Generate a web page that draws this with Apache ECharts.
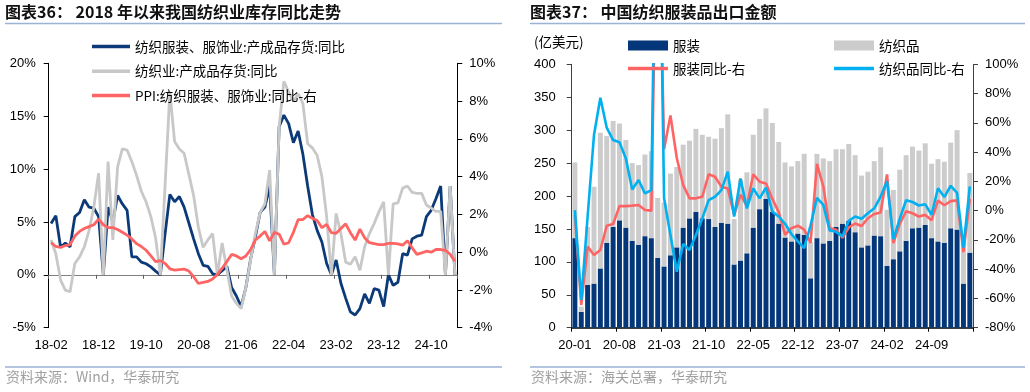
<!DOCTYPE html>
<html>
<head>
<meta charset="utf-8">
<script src="https://cdn.jsdelivr.net/npm/echarts@6/dist/echarts.min.js"></script>
<style>
html,body{margin:0;padding:0;background:#fff;}
#c{width:1030px;height:392px;}
</style>
</head>
<body>
<div id="c"></div>
<script>
// ---------- Left chart: 2018 年以来我国纺织业库存同比走势 ----------
const leftCategories = [
 '18-02','18-03','18-04','18-05','18-06','18-07','18-08','18-09','18-10','18-11','18-12',
 '19-01','19-02','19-03','19-04','19-05','19-06','19-07','19-08','19-09','19-10','19-11','19-12',
 '20-01','20-02','20-03','20-04','20-05','20-06','20-07','20-08','20-09','20-10','20-11','20-12',
 '21-01','21-02','21-03','21-04','21-05','21-06','21-07','21-08','21-09','21-10','21-11','21-12',
 '22-01','22-02','22-03','22-04','22-05','22-06','22-07','22-08','22-09','22-10','22-11','22-12',
 '23-01','23-02','23-03','23-04','23-05','23-06','23-07','23-08','23-09','23-10','23-11','23-12',
 '24-01','24-02','24-03','24-04','24-05','24-06','24-07','24-08','24-09','24-10','24-11','24-12',
 '25-01','25-02','25-03'
];
// 纺织服装、服饰业:产成品存货:同比 (%)
const apparelInventoryYoY = [
 4.85,5.6,2.6,3.0,2.65,5.5,5.9,7.1,6.4,6.3,5.5,
 0,6.4,5.0,7.5,6.7,6.1,1.7,1.7,1.2,1.05,0.75,0.35,
 0,3.9,7.6,6.9,7.4,6.4,4.9,3.4,2.0,0.9,0.8,0.1,
 0,0.4,0.8,-1.2,-2.0,-3.0,-1.2,1.5,3.6,5.9,6.4,8.4,
 0,14.0,15.1,14.3,12.5,13.6,11.4,8.4,5.7,4.2,3.1,1.07,
 0,1.4,-0.8,-2.2,-3.5,-3.8,-3.2,-1.8,-2.7,-1.3,-1.45,-3.0,
 0,-1.0,-0.7,2.0,1.86,3.4,3.65,3.75,5.5,6.1,7.2,8.4,
 0,8.4,0
];
// 纺织业:产成品存货:同比 (%)
const textileInventoryYoY = [
 3.3,2.0,-0.5,-1.45,-1.6,1.07,1.7,2.65,4.2,6.4,9.6,
 0,10.7,3.3,10.2,11.9,11.8,10.7,9.4,7.9,6.9,5.5,3.5,
 0,8.5,17.3,12.6,11.9,11.5,9.5,7.5,4.5,2.6,3.3,3.9,
 0,3.0,0.5,-2.0,-2.7,-3.2,-1.2,1.4,3.9,5.9,6.7,9.9,
 0,14.0,18.3,17.3,16.4,17.1,16.2,12.4,12.0,11.3,9.3,5.5,
 0,5.8,3.9,1.2,1.0,1.7,0.44,2.65,3.9,4.85,5.95,6.9,
 0,6.7,6.8,8.2,8.4,7.8,7.7,7.7,6.6,6.3,6.0,6.0,
 0,8.4,0
];
// PPI:纺织服装、服饰业:同比 (%, right axis)
const apparelPPIYoY = [
 0.5,0.3,0.25,0.35,0.4,0.85,1.1,1.25,1.35,1.45,1.75,
 1.45,1.3,1.3,1.2,1.05,0.9,0.7,0.45,0.3,0.1,-0.2,-0.5,
 -0.45,-0.6,-0.88,-0.95,-0.92,-0.9,-1.0,-1.3,-1.66,-1.6,-1.55,-1.42,
 -1.18,-0.85,-0.5,-0.12,-0.2,-0.35,-0.2,0.14,0.65,0.85,1.1,0.6,
 1.05,0.95,0.42,0.5,1.05,1.72,1.73,1.93,1.8,1.68,1.3,1.47,
 1.03,1.0,1.25,1.5,1.03,0.64,1.22,0.76,0.5,0.45,0.4,0.4,
 0.46,0.46,0.44,0.37,0.6,0.23,-0.12,-0.04,0.05,0,0.14,0.14,
 0.1,-0.12,-0.48
];
const leftLeftTicks = {min:-5, max:20, interval:5};
const leftRightTicks = {min:-4, max:10, interval:2};

// ---------- Right chart: 中国纺织服装品出口金额 ----------
const rightCategories = [
 '20-01','20-02','20-03','20-04','20-05','20-06','20-07','20-08','20-09','20-10','20-11','20-12',
 '21-01','21-02','21-03','21-04','21-05','21-06','21-07','21-08','21-09','21-10','21-11','21-12',
 '22-01','22-02','22-03','22-04','22-05','22-06','22-07','22-08','22-09','22-10','22-11','22-12',
 '23-01','23-02','23-03','23-04','23-05','23-06','23-07','23-08','23-09','23-10','23-11','23-12',
 '24-01','24-02','24-03','24-04','24-05','24-06','24-07','24-08','24-09','24-10','24-11','24-12',
 '25-01','25-02','25-03'
];
// 服装 (亿美元)
const apparelExports = [
 136,24,65,67,90,129,153,163,152,132,126,139,
 136,106,93,110,122,152,166,176,166,165,153,159,
 158,96,102,113,152,180,196,176,158,137,131,143,
 141,75,136,128,132,153,158,162,145,122,125,140,
 139,94,104,116,132,151,152,156,136,131,129,151,
 149,67,114
];
// 纺织品 (亿美元)
const textileExports = [
 115,8,88,147,206,162,161,147,133,118,121,124,
 132,91,97,124,122,126,118,126,127,125,134,144,
 166,69,123,123,141,137,137,135,124,114,114,110,
 123,55,128,129,121,118,113,117,117,109,112,113,
 135,85,105,124,130,124,117,124,113,125,123,130,
 151,63,121
];
// 服装同比 (%, right axis)
const apparelExportsYoY = [
 -3,-64.5,-24.6,-30.3,-26.9,-10.3,-9.2,3.1,3.1,3.4,3.8,0.4,
 0,250,42,65,36,17.5,8.4,8.4,9.5,24.8,23.2,16.4,
 15.2,-3,11,3,24.8,19.8,18.6,8,-1,-16.5,-12,-10.3,
 -13,-22,32,16.6,-12,-13,-18.5,-11.5,-8.8,-10.5,-5.2,-2.3,
 -1.2,24.7,-22.2,-9.1,-0.4,-1.8,-4,-2.9,-6.5,6.8,3.7,6.5,
 7,-28.3,8
];
// 纺织品同比 (%, right axis)
const textileExportsYoY = [
 0.4,-61,-4,51.7,77.2,56.7,48.2,46.7,35.7,14.5,20.9,11.8,
 14,300,8.4,-16.7,-41.7,-22.8,-26.9,-16.7,-5.3,7.2,9.5,14,
 26.6,-4.1,22,1.5,15.2,8.4,15.7,-0.7,-4,-9,-16,-21,
 -25.6,-10,8.7,3.9,-13.5,-14.5,-17.6,-7,-4,-5.6,-1.8,1.6,
 9.6,20.1,-19.4,-5.6,7.1,5.9,3.5,4.3,-2.8,15.3,9.3,17,
 12.2,-25.2,16.5
];
const rightLeftTicks = {min:0, max:400, interval:50};
const rightRightTicks = {min:-80, max:100, interval:20};

// ---------- styling ----------
const CJK = '"Noto Sans CJK SC", "Noto Sans", sans-serif';
const LAT = '"Liberation Sans", Arial, sans-serif';
const C = {
  navyL:'#0c3a78', grayL:'#c8c8c8', redL:'#ff6464',
  navyR:'#043779', grayR:'#cccccc', redR:'#ff6464', blueR:'#00b0f0',
  rule:'#9bb3d4', src:'#a0a0a0'
};
const axisLabelBase = {color:'#000', fontFamily: LAT, fontSize:13};

function yAx(grid, pos, t, margin, lineColor){
  return {
    type:'value', gridIndex:grid, position:pos, min:t.min, max:t.max, interval:t.interval,
    axisLine:{show:true, onZero:false, lineStyle:{color:lineColor, width:1}},
    axisTick:{show:true, length:5, lineStyle:{color:lineColor}},
    splitLine:{show:false},
    axisLabel:Object.assign({}, axisLabelBase, {margin:margin, formatter:(v)=> pos==='left' && grid===1 ? String(v) : v+'%'})
  };
}

const names = {
  a:'纺织服装、服饰业:产成品存货:同比',
  b:'纺织业:产成品存货:同比',
  c:'PPI:纺织服装、服饰业:同比-右',
  d:'服装', e:'纺织品', f:'服装同比-右', g:'纺织品同比-右'
};
function lg(name, left, top, w, h){
  return {
    data:[name], left:left, top:top, itemWidth:w, itemHeight:h, icon:'rect',
    itemGap:0, padding:0, selectedMode:false,
    textStyle:{fontFamily:CJK, fontSize:13.5, color:'#000', lineHeight:16, padding:[1,0,0,0]}
  };
}

const option = {
  animation:false,
  backgroundColor:'#fff',
  grid:[
    {left:48.7, top:63.3, width:408.6, height:264.4},
    {left:571.7, top:64.3, width:401.3, height:263.4}
  ],
  legend:[
    lg(names.a, 92, 38, 38, 3.5),
    lg(names.b, 92, 62.7, 38, 3.5),
    lg(names.c, 92, 87, 38, 3.5),
    lg(names.d, 628, 37, 40, 10),
    lg(names.e, 834, 37, 40, 10),
    lg(names.f, 628, 60, 40, 3.5),
    lg(names.g, 834, 60, 40, 3.5)
  ],
  xAxis:[
    {type:'category', gridIndex:0, data:leftCategories, boundaryGap:true, position:'bottom',
     axisLine:{show:true, onZero:true, onZeroAxisIndex:0, lineStyle:{color:'#808080', width:1}},
     axisTick:{show:true, interval:9, alignWithLabel:false, length:4, lineStyle:{color:'#606060'}},
     axisLabel:{show:false}, splitLine:{show:false}},
    {type:'category', gridIndex:0, data:leftCategories, boundaryGap:true, position:'bottom',
     axisLine:{show:false, onZero:false}, axisTick:{show:false},
     axisLabel:Object.assign({}, axisLabelBase, {interval:9, margin:11}), splitLine:{show:false}},
    {type:'category', gridIndex:1, data:rightCategories, boundaryGap:true, position:'bottom',
     axisLine:{show:true, onZero:false, lineStyle:{color:'#000', width:1.5}},
     axisTick:{show:true, interval:6, alignWithLabel:false, length:4, lineStyle:{color:'#000'}},
     axisLabel:Object.assign({}, axisLabelBase, {interval:6, margin:11}), splitLine:{show:false}}
  ],
  yAxis:[
    yAx(0,'left',leftLeftTicks,13,'#000'),
    yAx(0,'right',leftRightTicks,12,'#000'),
    yAx(1,'left',rightLeftTicks,16,'#404040'),
    yAx(1,'right',rightRightTicks,12,'#404040')
  ],
  series:[
    {name:names.a, type:'line', xAxisIndex:0, yAxisIndex:0, data:apparelInventoryYoY,
     symbol:'none', lineStyle:{color:C.navyL, width:2.8}, itemStyle:{color:C.navyL}},
    {name:names.b, type:'line', xAxisIndex:0, yAxisIndex:0, data:textileInventoryYoY,
     symbol:'none', lineStyle:{color:C.grayL, width:2.8}, itemStyle:{color:C.grayL}},
    {name:names.c, type:'line', xAxisIndex:0, yAxisIndex:1, data:apparelPPIYoY,
     symbol:'none', lineStyle:{color:C.redL, width:2.8}, itemStyle:{color:C.redL}},
    {name:names.d, type:'bar', xAxisIndex:2, yAxisIndex:2, stack:'exp', data:apparelExports,
     barCategoryGap:'22%', itemStyle:{color:C.navyR}},
    {name:names.e, type:'bar', xAxisIndex:2, yAxisIndex:2, stack:'exp', data:textileExports,
     barCategoryGap:'22%', itemStyle:{color:C.grayR}},
    {name:names.f, type:'line', xAxisIndex:2, yAxisIndex:3, data:apparelExportsYoY, clip:true,
     symbol:'none', lineStyle:{color:C.redR, width:2.6}, itemStyle:{color:C.redR}},
    {name:names.g, type:'line', xAxisIndex:2, yAxisIndex:3, data:textileExportsYoY, clip:true,
     symbol:'none', lineStyle:{color:C.blueR, width:2.6}, itemStyle:{color:C.blueR}}
  ],
  graphic:[
    {type:'text', left:5, top:4, style:{text:'图表36： 2018 年以来我国纺织业库存同比走势', font:'bold 16px '+CJK, fill:'#111'}},
    {type:'line', shape:{x1:5, y1:23.5, x2:502, y2:23.5}, style:{stroke:C.rule, lineWidth:1.5}},
    {type:'text', left:530, top:4, style:{text:'图表37： 中国纺织服装品出口金额', font:'bold 16px '+CJK, fill:'#111'}},
    {type:'line', shape:{x1:530, y1:23.5, x2:1025, y2:23.5}, style:{stroke:C.rule, lineWidth:1.5}},
    {type:'text', left:534, top:35, style:{text:'(亿美元)', font:'13.5px '+CJK, fill:'#000'}},
    {type:'line', shape:{x1:5, y1:367, x2:502, y2:367}, style:{stroke:C.rule, lineWidth:1.5}},
    {type:'line', shape:{x1:530, y1:367, x2:1025, y2:367}, style:{stroke:C.rule, lineWidth:1.5}},
    {type:'text', left:6, top:370, style:{text:'资料来源：Wind，华泰研究', font:'14px '+CJK, fill:C.src}},
    {type:'text', left:531, top:370, style:{text:'资料来源：海关总署，华泰研究', font:'14px '+CJK, fill:C.src}}
  ]
};
const chart = echarts.init(document.getElementById('c'), null, {renderer:'canvas', width:1030, height:392});
chart.setOption(option);
</script>
</body>
</html>
